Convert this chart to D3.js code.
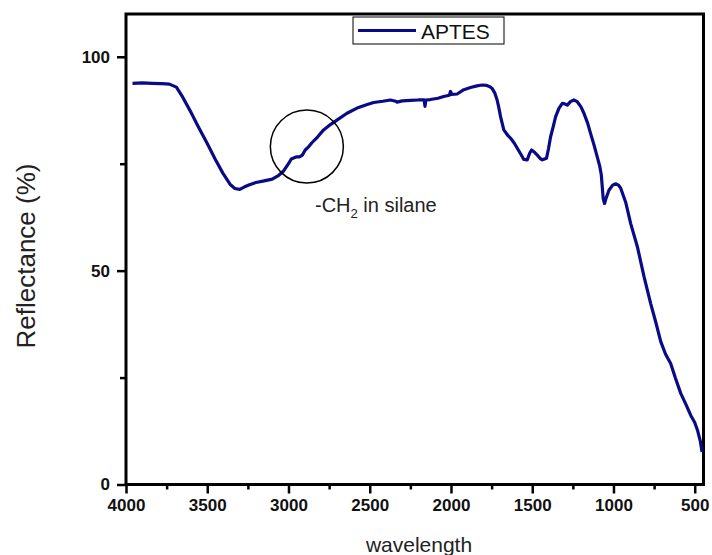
<!DOCTYPE html>
<html>
<head>
  <meta charset="utf-8">
  <title>APTES reflectance</title>
  <script src="https://d3js.org/d3.v7.min.js" charset="utf-8"></script>
  <style>
  body {margin: 0; background: #fff; font-family: "Liberation Sans", Arial, sans-serif;}
  .tick text {font-family: "Liberation Sans", Arial, sans-serif;}
  </style>
</head>
<body>
<script>
  // spectrum (wavenumber, reflectance %)
  const wavenumber = [3960, 3900, 3840, 3780, 3733, 3690, 3650, 3600, 3560, 3500, 3450, 3404, 3360, 3330, 3300,
    3270, 3240, 3200, 3150, 3100, 3060, 3030, 3000, 2983, 2950, 2932, 2915, 2897, 2875, 2856, 2820, 2784, 2740,
    2702, 2640, 2578, 2520, 2476, 2420, 2373, 2340, 2332, 2300, 2250, 2200, 2165, 2160, 2155, 2127, 2080, 2045,
    2010, 2003, 1995, 1962, 1921, 1880, 1840, 1808, 1780, 1760, 1747, 1730, 1716, 1705, 1695, 1675, 1650, 1634,
    1610, 1592, 1570, 1552, 1531, 1515, 1504, 1490, 1469, 1450, 1438, 1412, 1400, 1387, 1370, 1356, 1335, 1315,
    1300, 1284, 1265, 1244, 1223, 1200, 1182, 1160, 1141, 1120, 1100, 1085, 1075, 1063, 1055, 1045, 1028, 1005,
    987, 970, 956, 925, 894, 853, 812, 771, 740, 709, 680, 648, 620, 586, 555, 525, 500, 483, 465, 455];
  const reflectance = [93.8, 93.9, 93.8, 93.7, 93.6, 92.9, 90.5, 87.0, 84.0, 79.7, 76.0, 72.8, 70.2, 69.2, 69.0,
    69.6, 70.1, 70.6, 71.0, 71.4, 72.3, 73.3, 75.0, 76.1, 76.6, 76.6, 77.0, 78.2, 79.0, 79.9, 81.3, 82.9, 84.2,
    85.2, 86.8, 88.0, 88.8, 89.3, 89.6, 89.9, 89.6, 89.4, 89.7, 89.8, 89.9, 89.9, 88.4, 89.9, 90.0, 90.3, 90.7,
    91.0, 91.9, 91.2, 91.3, 92.3, 92.8, 93.2, 93.4, 93.3, 93.0, 92.6, 91.5, 89.9, 88.0, 86.0, 82.9, 81.6, 81.0,
    79.8, 78.6, 77.2, 76.0, 75.9, 77.5, 78.2, 77.8, 77.0, 76.2, 75.9, 76.3, 78.5, 81.3, 83.8, 86.0, 88.0, 89.1,
    89.0, 88.7, 89.5, 89.9, 89.5, 88.3, 86.8, 84.6, 82.1, 79.4, 76.6, 74.5, 72.4, 66.8, 65.7, 67.0, 68.8, 70.0,
    70.3, 70.0, 69.3, 66.0, 61.0, 55.6, 48.6, 42.3, 38.0, 33.4, 30.5, 28.3, 25.0, 21.3, 18.8, 16.2, 14.5, 12.7, 10.0, 7.6];

  const xTicks = [4000, 3500, 3000, 2500, 2000, 1500, 1000, 500];
  const xMinor = [3750, 3250, 2750, 2250, 1750, 1250, 750];
  const yTicks = [0, 50, 100];
  const yMinor = [25, 75];
  const seriesName = "APTES";
  const note = {wn: 2887, r: 79.0, label: "-CH", sub: "2", rest: " in silane"};

  const width = 712, height = 555;
  const margin = {left: 126, right: 8.5, top: 14, bottom: 70.5};
  const lineColor = "#0a0a87";

  const svg = d3.select("body").append("svg")
    .attr("width", width)
    .attr("height", height);

  const x = d3.scaleLinear().domain([4000, 446]).range([margin.left, width - margin.right]);
  const y = d3.scaleLinear().domain([0, 110]).range([height - margin.bottom, margin.top]);

  // frame
  svg.append("rect")
    .attr("x", margin.left).attr("y", margin.top)
    .attr("width", width - margin.right - margin.left)
    .attr("height", height - margin.bottom - margin.top)
    .attr("fill", "none").attr("stroke", "#000").attr("stroke-width", 3);

  // minor ticks
  svg.append("g")
    .attr("transform", `translate(0,${height - margin.bottom})`)
    .call(d3.axisBottom(x).tickValues(xMinor).tickSize(5).tickFormat(""))
    .call(g => g.select(".domain").remove())
    .call(g => g.selectAll("line").attr("stroke-width", 2.5));
  svg.append("g")
    .attr("transform", `translate(${margin.left},0)`)
    .call(d3.axisLeft(y).tickValues(yMinor).tickSize(6).tickFormat(""))
    .call(g => g.select(".domain").remove())
    .call(g => g.selectAll("line").attr("stroke-width", 2.5));

  // major ticks
  svg.append("g")
    .attr("transform", `translate(0,${height - margin.bottom})`)
    .call(d3.axisBottom(x).tickValues(xTicks).tickSize(9).tickPadding(5).tickFormat(d3.format("d")))
    .call(g => g.select(".domain").remove())
    .call(g => g.selectAll("line").attr("stroke-width", 2.5))
    .call(g => g.selectAll("text").attr("font-size", 17).attr("font-weight", "bold").attr("fill", "#111"));
  svg.append("g")
    .attr("transform", `translate(${margin.left},0)`)
    .call(d3.axisLeft(y).tickValues(yTicks).tickSize(9).tickPadding(7))
    .call(g => g.select(".domain").remove())
    .call(g => g.selectAll("line").attr("stroke-width", 2.5))
    .call(g => g.selectAll("text").attr("font-size", 17).attr("font-weight", "bold").attr("fill", "#111"));

  // line
  const pts = wavenumber.map((w, i) => [w, reflectance[i]]);
  svg.append("path")
    .datum(pts)
    .attr("fill", "none")
    .attr("stroke", lineColor)
    .attr("stroke-width", 3.2)
    .attr("stroke-linejoin", "round")
    .attr("d", d3.line().x(d => x(d[0])).y(d => y(d[1])));

  // annotation
  svg.append("circle")
    .attr("cx", x(note.wn)).attr("cy", y(note.r)).attr("r", 36.5)
    .attr("fill", "none").attr("stroke", "#000").attr("stroke-width", 1.5);
  const t = svg.append("text")
    .attr("x", 315).attr("y", 212)
    .attr("font-size", 20).attr("fill", "#222");
  t.append("tspan").text(note.label);
  t.append("tspan").attr("font-size", 13).attr("dy", 6).text(note.sub);
  t.append("tspan").attr("dy", -6).text(note.rest);

  // legend
  svg.append("rect")
    .attr("x", 353).attr("y", 17).attr("width", 151).attr("height", 27)
    .attr("fill", "#fff").attr("stroke", "#000").attr("stroke-width", 1);
  svg.append("line")
    .attr("x1", 358).attr("x2", 416).attr("y1", 30.5).attr("y2", 30.5)
    .attr("stroke", lineColor).attr("stroke-width", 3);
  svg.append("text")
    .attr("x", 421).attr("y", 38.5)
    .attr("font-size", 21).attr("fill", "#111")
    .text(seriesName);

  // axis titles
  svg.append("text")
    .attr("x", 419).attr("y", 552)
    .attr("text-anchor", "middle")
    .attr("font-size", 21).attr("fill", "#222")
    .text("wavelength");
  svg.append("text")
    .attr("transform", "translate(35,256) rotate(-90)")
    .attr("text-anchor", "middle")
    .attr("font-size", 26).attr("fill", "#222")
    .text("Reflectance (%)");
</script>
</body>
</html>
